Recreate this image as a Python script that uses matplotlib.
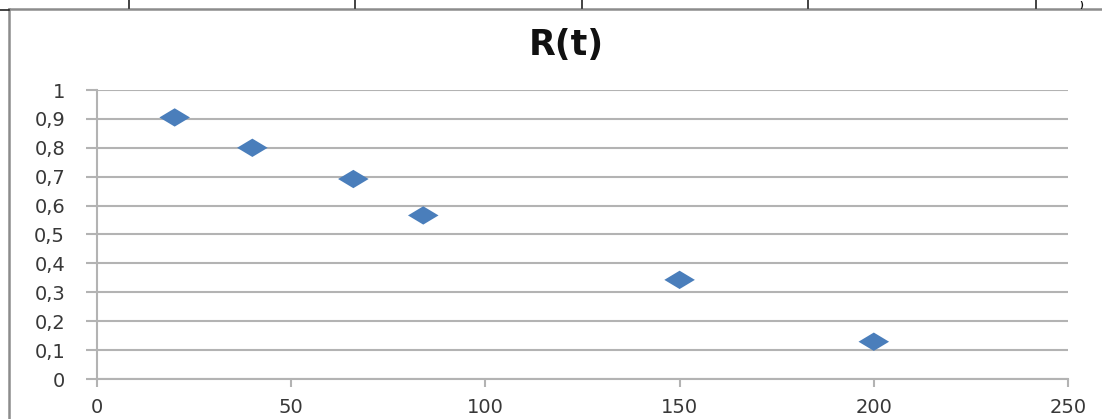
import matplotlib
matplotlib.use("Agg")
import matplotlib.pyplot as plt
from matplotlib.lines import Line2D

# Data
t_values = [20, 40, 66, 84, 150, 200]
r_values = [0.905, 0.80, 0.692, 0.566, 0.343, 0.129]
x_ticks = [0, 50, 100, 150, 200, 250]
y_ticks = [0, 0.1, 0.2, 0.3, 0.4, 0.5, 0.6, 0.7, 0.8, 0.9, 1]
y_tick_labels = ["0", "0,1", "0,2", "0,3", "0,4", "0,5", "0,6", "0,7", "0,8", "0,9", "1"]
title = "R(t)"

W, H = 1102, 419
fig = plt.figure(figsize=(W / 100, H / 100), dpi=100)
fig.patch.set_facecolor("white")

ax = fig.add_axes([97 / W, 1 - 379 / H, (1068 - 97) / W, (379 - 90) / H])

grid_c = "#b3b3b3"
diamond = [(-1, 0), (0, 0.6), (1, 0), (0, -0.6), (-1, 0)]
ax.scatter(t_values, r_values, marker=diamond, s=22 ** 2, color="#4a7ebb",
           edgecolors="none", zorder=3, clip_on=False)

ax.set_xlim(0, 250)
ax.set_ylim(0, 1)
ax.set_xticks(x_ticks)
ax.set_xticklabels([str(v) for v in x_ticks])
ax.set_yticks(y_ticks)
ax.set_yticklabels(y_tick_labels)
ax.yaxis.grid(True, color=grid_c, linewidth=1.5)
ax.set_axisbelow(True)

for s in ["top", "right"]:
    ax.spines[s].set_visible(False)
for s in ["left", "bottom"]:
    ax.spines[s].set_color(grid_c)
    ax.spines[s].set_linewidth(1.5)

ax.tick_params(axis="y", length=8, width=1.5, color=grid_c, pad=15,
               labelsize=14, labelcolor="#383838")
ax.tick_params(axis="x", length=6, width=1.5, color=grid_c, pad=8,
               labelsize=14, labelcolor="#383838")

fig.text(566 / W, 1 - 45 / H, title, ha="center", va="center",
         fontsize=25, fontweight="bold", color="#111111")

# Frame / surrounding cell borders
def fline(x0, y0, x1, y1, c, lw):
    fig.add_artist(Line2D([x0 / W, x1 / W], [1 - y0 / H, 1 - y1 / H],
                          color=c, linewidth=lw, transform=fig.transFigure))

fline(9, 9.5, W, 9.5, "#8c8c8c", 1.8)
fline(9, 9, 9, H, "#8c8c8c", 1.8)
fline(0, 10, 9, 10, "#222222", 1.2)
for xv in [129, 355, 582, 808, 1036]:
    fline(xv, 0, xv, 8.5, "#222222", 1.2)
fig.text(1081 / W, 1 - 1 / H, ")", ha="center", va="top", fontsize=6,
         fontweight="bold", color="#111111")

fig.savefig("out.png", dpi=100)
